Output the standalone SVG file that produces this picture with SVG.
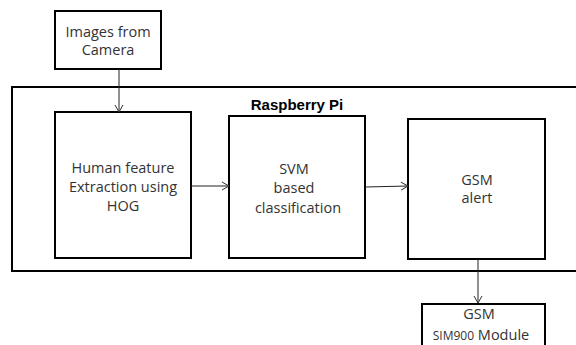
<svg xmlns="http://www.w3.org/2000/svg" width="576" height="345" viewBox="0 0 576 345">
<defs>
<marker id="arr" markerWidth="10" markerHeight="10" refX="8" refY="5" orient="auto" markerUnits="userSpaceOnUse">
<path d="M1,1 L8,5 L1,9" fill="none" stroke="#333" stroke-width="1"/>
</marker>
<style>
.box{fill:#fff;stroke:#000;stroke-width:2}
.t{font-family:"Open Sans","Noto Sans","DejaVu Sans",sans-serif;font-size:14.5px;fill:#333;text-anchor:middle}
.c{fill:none;stroke:#222;stroke-width:1;marker-end:url(#arr)}
</style>
</defs>
<rect width="576" height="345" fill="#fff"/>
<g id="raspberry-pi">
<rect x="12" y="87" width="570" height="184" fill="none" stroke="#000" stroke-width="2"/>
<text x="297" y="110" font-family="'Liberation Sans',Arial,sans-serif" font-size="15" font-weight="bold" text-anchor="middle" fill="#000">Raspberry Pi</text>
</g>
<g id="camera">
<rect class="box" x="55" y="11" width="106" height="58"/>
<text class="t" x="108" y="37">Images from</text>
<text class="t" x="108" y="55">Camera</text>
</g>
<g id="hog">
<rect class="box" x="55" y="112" width="136" height="146"/>
<text class="t" x="123" y="173">Human feature</text>
<text class="t" x="123" y="192">Extraction using</text>
<text class="t" x="123" y="211">HOG</text>
</g>
<g id="svm">
<rect class="box" x="229" y="116" width="136" height="142"/>
<text class="t" x="294" y="174">SVM</text>
<text class="t" x="294" y="193">based</text>
<text class="t" x="298" y="213">classification</text>
</g>
<g id="gsm-alert">
<rect class="box" x="408" y="119" width="137" height="140"/>
<text class="t" x="477" y="185">GSM</text>
<text class="t" x="477" y="203">alert</text>
</g>
<g id="gsm-module">
<rect class="box" x="422" y="304" width="123" height="60"/>
<text class="t" x="479" y="319">GSM</text>
<text class="t" x="481" y="340"><tspan font-size="12">SIM900</tspan> Module</text>
</g>
<g id="connectors">
<line class="c" x1="119" y1="69" x2="119" y2="112"/>
<line class="c" x1="191" y1="186" x2="229" y2="186"/>
<line class="c" x1="365" y1="187" x2="408" y2="186"/>
<line class="c" x1="478" y1="259" x2="478" y2="303"/>
</g>
</svg>
